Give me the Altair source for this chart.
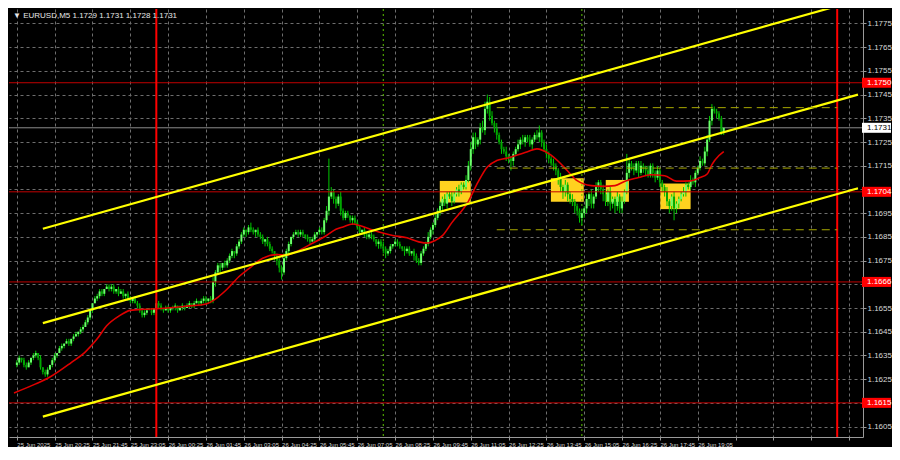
import altair as alt
import pandas as pd

# ---------------- data ----------------
BASE = 1.1600          # prices below are given in pips above this base
PIP = 0.0001
SYMBOL = "EURUSD,M5"

first_open_pips = 31
close_pips = [
    32, 34, 33, 31, 30, 32, 34, 35, 36, 34,
    30, 28, 27, 29, 31, 33, 35, 36, 38, 39,
    40, 41, 40, 42, 43, 44, 45, 46, 47, 49,
    51, 54, 57, 59, 60, 62, 61, 63, 64, 63,
    64, 62, 63, 61, 62, 60, 61, 59, 58, 59,
    57, 56, 54, 52, 53, 54, 54, 53, 55, 57,
    56, 55, 54, 55, 54, 55, 55, 56, 54, 55,
    56, 55, 56, 57, 56, 57, 58, 57, 58, 59,
    58, 59, 58, 66, 70, 73, 72, 74, 73, 75,
    77, 79, 78, 81, 83, 86, 88, 87, 89, 88,
    87, 88, 86, 85, 83, 84, 82, 80, 79, 77,
    75, 72, 70, 76, 79, 82, 85, 86, 87, 86,
    87, 86, 85, 84, 83, 84, 86, 87, 88, 87,
    92, 96, 102, 104, 101, 99, 102, 96, 93, 95,
    94, 92, 93, 91, 89, 87, 88, 86, 85, 86,
    85, 84, 82, 83, 81, 80, 78, 79, 81, 82,
    83, 82, 81, 80, 79, 80, 78, 79, 77, 75,
    74, 78, 80, 82, 85, 88, 90, 93, 96, 98,
    101, 99, 103, 102, 100, 103, 105, 104, 107, 106,
    109, 115, 122, 127, 124, 126, 131, 130, 139, 142,
    136, 133, 131, 128, 125, 122, 121, 119, 118, 117,
    120, 122, 124, 126, 125, 127, 126, 124, 126, 128,
    127, 129, 125, 122, 120, 118, 116, 115, 113, 110,
    106, 104, 107, 103, 101, 100, 98, 96, 93, 95,
    97, 101, 103, 99, 102, 106, 108, 105, 103, 100,
    104, 99, 101, 98, 102, 97, 100, 104, 112, 116,
    114, 113, 116, 112, 115, 114, 113, 111, 115, 112,
    110, 113, 108, 106, 104, 100, 98, 102, 97, 99,
    101, 103, 104, 107, 106, 109, 108, 112, 114, 117,
    116, 121, 126, 134, 139, 138, 137, 135, 129, 131,
]
wick_up_pips = [
    1, 1, 0, 1, 1, 1, 0, 1, 1, 0,
    1, 0, 1, 1, 0, 1, 1, 0, 1, 1,
    0, 1, 1, 0, 1, 1, 0, 1, 1, 1,
    1, 1, 0, 1, 1, 1, 1, 0, 1, 1,
    1, 1, 0, 1, 1, 1, 0, 1, 1, 0,
    1, 1, 1, 0, 1, 1, 1, 1, 0, 3,
    1, 1, 0, 1, 1, 0, 1, 1, 0, 1,
    1, 0, 1, 1, 0, 1, 1, 0, 1, 1,
    1, 0, 1, 2, 1, 1, 1, 0, 1, 1,
    1, 1, 0, 1, 1, 1, 1, 0, 1, 2,
    1, 0, 1, 1, 1, 0, 1, 1, 1, 0,
    1, 1, 1, 2, 1, 1, 0, 1, 1, 1,
    1, 1, 0, 1, 1, 1, 1, 0, 1, 1,
    1, 2, 16, 2, 1, 1, 1, 2, 1, 1,
    1, 0, 1, 1, 1, 1, 0, 1, 1, 1,
    1, 1, 0, 1, 1, 2, 1, 1, 1, 0,
    1, 1, 1, 0, 1, 1, 1, 0, 1, 1,
    1, 1, 1, 1, 2, 1, 1, 2, 1, 2,
    1, 2, 1, 1, 2, 1, 1, 2, 1, 1,
    2, 2, 3, 2, 2, 1, 2, 3, 3, 3,
    2, 2, 1, 2, 1, 1, 1, 2, 1, 1,
    1, 1, 2, 1, 2, 1, 1, 2, 1, 1,
    2, 3, 1, 1, 2, 1, 1, 2, 1, 1,
    2, 1, 2, 1, 1, 2, 1, 1, 1, 2,
    1, 2, 1, 2, 1, 2, 1, 1, 2, 1,
    1, 2, 1, 1, 2, 1, 2, 1, 8, 2,
    1, 2, 1, 1, 2, 1, 1, 2, 1, 1,
    1, 2, 1, 1, 1, 2, 1, 1, 2, 1,
    1, 1, 2, 1, 1, 2, 1, 1, 1, 2,
    1, 2, 2, 2, 2, 1, 1, 1, 1, 0,
]
wick_dn_pips = [
    1, 1, 1, 1, 1, 0, 1, 1, 1, 1,
    1, 1, 1, 1, 0, 1, 1, 1, 0, 1,
    1, 0, 1, 1, 1, 0, 1, 1, 1, 0,
    1, 1, 1, 0, 1, 1, 1, 1, 0, 1,
    1, 1, 1, 1, 0, 1, 1, 1, 1, 1,
    0, 1, 1, 1, 1, 1, 0, 1, 1, 1,
    1, 1, 1, 0, 1, 1, 1, 1, 1, 0,
    1, 1, 0, 1, 1, 1, 0, 1, 1, 1,
    1, 1, 1, 1, 2, 1, 2, 1, 1, 1,
    1, 1, 2, 1, 1, 1, 1, 2, 1, 1,
    1, 2, 1, 1, 1, 2, 1, 1, 1, 2,
    2, 2, 3, 1, 1, 1, 1, 1, 0, 1,
    1, 1, 1, 1, 1, 0, 1, 1, 1, 1,
    1, 1, 2, 1, 2, 2, 1, 2, 1, 1,
    1, 1, 2, 1, 1, 1, 1, 1, 1, 1,
    1, 1, 1, 2, 1, 2, 2, 1, 1, 1,
    1, 1, 1, 1, 2, 1, 1, 1, 2, 1,
    1, 1, 1, 1, 1, 1, 2, 1, 1, 2,
    2, 1, 2, 1, 2, 1, 1, 2, 1, 1,
    1, 1, 2, 2, 2, 1, 2, 1, 2, 2,
    2, 1, 2, 2, 1, 2, 1, 2, 2, 4,
    2, 1, 1, 2, 1, 2, 1, 1, 2, 1,
    1, 2, 2, 1, 2, 2, 1, 2, 2, 3,
    2, 3, 2, 3, 2, 2, 3, 2, 2, 3,
    2, 2, 3, 2, 2, 1, 2, 2, 3, 2,
    2, 3, 2, 3, 2, 2, 2, 1, 1, 2,
    1, 2, 1, 2, 1, 2, 2, 1, 1, 2,
    2, 1, 2, 2, 2, 2, 3, 2, 5, 2,
    2, 1, 1, 2, 1, 1, 1, 2, 1, 1,
    1, 1, 2, 1, 2, 1, 2, 1, 1, 1,
]

# moving average (red line), read at points along the curve: bar index, pips
ma_idx = [-1.2, 8, 14, 23, 29, 34, 38, 43, 48, 54, 59, 66, 72, 80, 85, 89, 94, 98,
          104, 110, 114, 118, 125, 131, 135, 138, 142, 145, 149, 154, 159, 165,
          170, 174, 177, 180, 184, 191, 195, 199, 203, 207, 211, 216, 220, 225,
          229, 233, 237, 243, 248, 253, 257, 263, 268, 274, 279, 285, 289, 292,
          294, 297, 299]
ma_pips = [19.2, 23, 25.9, 32, 36.5, 42, 47.5, 51.5, 54, 54.5, 54.7, 55.2, 55.8, 56.7,
           59.5, 63, 68.3, 71.5, 76, 77.5, 77.3, 78.7, 82.3, 85.6, 88.2, 89.2, 90.4,
           89.8, 88.4, 86.8, 85.6, 84.6, 82.9, 82.4, 83.5, 85.5, 91, 100, 108, 114.5,
           117.2, 118.1, 119.3, 120.9, 122.1, 120.1, 116.9, 112.8, 108.7, 106.6, 106.3,
           106.6, 108.4, 110, 111.2, 110.8, 108.5, 108.6, 110, 111.5, 115.5, 119.3, 121]

# x-axis labels (one every 16 five-minute bars)
time_labels = ["25 Jun 2025", "25 Jun 20:25", "25 Jun 21:45", "25 Jun 23:05",
               "26 Jun 00:25", "26 Jun 01:45", "26 Jun 03:05", "26 Jun 04:25",
               "26 Jun 05:45", "26 Jun 07:05", "26 Jun 08:25", "26 Jun 09:45",
               "26 Jun 11:05", "26 Jun 12:25", "26 Jun 13:45", "26 Jun 15:05",
               "26 Jun 16:25", "26 Jun 17:45", "26 Jun 19:05"]
x_ticks = [0, 16, 32, 48, 64, 80, 96, 112, 128, 144, 160, 176, 192, 208, 224, 240,
           256, 272, 288, 304, 320, 336, 352]
y_ticks = [1.1605, 1.1615, 1.1625, 1.1635, 1.1645, 1.1655, 1.1665, 1.1675, 1.1685,
           1.1695, 1.1705, 1.1715, 1.1725, 1.1735, 1.1745, 1.1755, 1.1765, 1.1775]

# levels and markings
red_levels = [1.1750, 1.1704, 1.1666, 1.1615]
current_price = 1.1731
red_vlines = [59, 347]          # day boundaries (00:00)
green_vlines = [155, 239]

chan_idx = [11.0, 355.8]
chan_top = [1.16884, 1.17848]
chan_mid = [1.16486, 1.17450]
chan_bot = [1.16092, 1.17055]

box_i0 = [178.9, 225.9, 249.1, 272.2]
box_i1 = [192.0, 239.8, 258.9, 285.0]
box_top = [1.17086, 1.17097, 1.17090, 1.17075]
box_bot = [1.16995, 1.16998, 1.16998, 1.16967]

dash_levels = [1.17395, 1.1714, 1.1688]
dash_i0 = 203
dash_i1 = 347

# ---------------- tables ----------------
opens = [first_open_pips] + close_pips[:-1]
rows = []
for i, (o, c, u, d) in enumerate(zip(opens, close_pips, wick_up_pips, wick_dn_pips)):
    rows.append(dict(
        i=i,
        top=BASE + max(o, c) * PIP, bot=BASE + min(o, c) * PIP,
        high=BASE + (max(o, c) + u) * PIP, low=BASE + (min(o, c) - d) * PIP,
        kind="bull" if c >= o else "bear",
        o=BASE + o * PIP, c=BASE + c * PIP,
    ))
candles = pd.DataFrame(rows)
last = rows[-1]
title_txt = "\u25bc {}  {:.4f} {:.4f} {:.4f} {:.4f}".format(
    SYMBOL, last["o"], last["high"], last["low"], last["c"])

ma_df = pd.DataFrame({"i": ma_idx, "p": [BASE + v * PIP for v in ma_pips]})
chan_df = pd.DataFrame(
    [{"i": chan_idx[k], "p": s[k], "line": n}
     for n, s in (("top", chan_top), ("mid", chan_mid), ("bot", chan_bot))
     for k in range(2)])
box_df = pd.DataFrame({"i0": box_i0, "i1": box_i1, "top": box_top, "bot": box_bot})
dash_df = pd.DataFrame({"p": dash_levels, "i0": [dash_i0] * 3, "i1": [dash_i1] * 3})
red_df = pd.DataFrame({"p": red_levels, "lab": ["%.4f" % v for v in red_levels]})
cur_df = pd.DataFrame({"p": [current_price], "lab": ["%.4f" % current_price]})
rv_df = pd.DataFrame({"i": red_vlines})
gv_df = pd.DataFrame({"i": green_vlines})
title_df = pd.DataFrame({"t": [title_txt]})

# ---------------- styling ----------------
W, H = 854, 428
FONT = "Liberation Sans, DejaVu Sans"
TXT = "#d8d8d8"
GRID = "#6e6e6e"
FRAME = "#9a9a9a"

lab_js = "[" + ",".join("'%s'" % s for s in time_labels) + "]"
# price labels hidden behind the coloured level boxes on the price scale
hide_js = " || ".join("abs(datum.value - %.4f) < 0.00025" % v for v in red_levels)

x_axis = alt.Axis(values=x_ticks, title=None, grid=True, gridColor=GRID, gridDash=[3, 3],
                  domainColor=FRAME, tickColor=FRAME, tickSize=3,
                  labelExpr="datum.value <= %d ? %s[datum.value / 16] : ''" % (288, lab_js),
                  labelAlign="left", labelFlush=False, labelOverlap=False, labelPadding=1,
                  labelFont=FONT, labelFontSize=6, labelColor=TXT)
y_axis = alt.Axis(values=y_ticks, orient="right", title=None, grid=True,
                  labelExpr="(%s) ? '' : format(datum.value, '.4f')" % hide_js,
                  gridColor=GRID, gridDash=[3, 3], domainColor=FRAME, tickColor=FRAME,
                  tickSize=3, labelPadding=1, labelOverlap=False, labelFont=FONT,
                  labelFontSize=8, labelColor=TXT)
xs = alt.Scale(domain=[-1.2, 355.8], nice=False, zero=False)
ys = alt.Scale(domain=[1.16006, 1.17811], nice=False, zero=False)


def X(f):
    return alt.X(f, type="quantitative", scale=xs, axis=x_axis)


def Y(f):
    return alt.Y(f, type="quantitative", scale=ys, axis=y_axis)


boxes = alt.Chart(box_df).mark_rect(color="#ffd21f").encode(
    x=X("i0"), x2="i1", y=Y("top"), y2="bot")
hred = alt.Chart(red_df).mark_rule(color="#c00000", strokeWidth=1).encode(y=Y("p"))
hcur = alt.Chart(cur_df).mark_rule(color="#8c8c8c", strokeWidth=1).encode(y=Y("p"))
vred = alt.Chart(rv_df).mark_rule(color="#ff0000", strokeWidth=2).encode(x=X("i"))
vgreen = alt.Chart(gv_df).mark_rule(color="#5cc400", strokeWidth=1,
                                    strokeDash=[2, 3]).encode(x=X("i"))
wicks = alt.Chart(candles).mark_rule(color="#00c800", strokeWidth=1).encode(
    x=X("i"), y=Y("low"), y2="high")
bodies = alt.Chart(candles).mark_bar(size=2).encode(
    x=X("i"), y=Y("bot"), y2="top",
    color=alt.Color("kind:N", scale=alt.Scale(domain=["bull", "bear"],
                                              range=["#6bff6b", "#00a800"]), legend=None))
ma = alt.Chart(ma_df).mark_line(color="#e00000", strokeWidth=1.6, interpolate="monotone",
                                clip=True).encode(x=X("i"), y=Y("p"))
chan = alt.Chart(chan_df).mark_line(color="#ffff00", strokeWidth=2.2, clip=True).encode(
    x=X("i"), y=Y("p"), detail="line:N")
dash = alt.Chart(dash_df).mark_rule(color="#a8a800", strokeWidth=1,
                                    strokeDash=[8, 5]).encode(x=X("i0"), x2="i1", y=Y("p"))

red_box = alt.Chart(red_df).mark_rect(color="#ff0000", clip=False, yOffset=-5,
                                      y2Offset=5).encode(
    x=alt.value(W - 1), x2=alt.value(W + 28), y=Y("p"), y2="p")
red_txt = alt.Chart(red_df).mark_text(align="left", baseline="middle", color="#ffffff",
                                      font=FONT, fontSize=8, clip=False).encode(
    x=alt.value(W + 4), y=Y("p"), text="lab:N")
cur_box = alt.Chart(cur_df).mark_rect(color="#ffffff", clip=False, yOffset=-5,
                                      y2Offset=5).encode(
    x=alt.value(W - 1), x2=alt.value(W + 28), y=Y("p"), y2="p")
cur_txt = alt.Chart(cur_df).mark_text(align="left", baseline="middle", color="#000000",
                                      font=FONT, fontSize=8, clip=False).encode(
    x=alt.value(W + 4), y=Y("p"), text="lab:N")
title = alt.Chart(title_df).mark_text(align="left", baseline="middle", color="#e8e8e8",
                                      font=FONT, fontSize=8).encode(
    x=alt.value(4), y=alt.value(7), text="t:N")

chart = alt.layer(
    boxes, hcur, vgreen, wicks, bodies, hred, vred, ma, chan, dash,
    red_box, red_txt, cur_box, cur_txt, title
).properties(
    width=W, height=H, padding=0, background="#000000"
).configure_view(stroke=None)

chart.save("out.html", embed_options={"renderer": "svg", "actions": False})
